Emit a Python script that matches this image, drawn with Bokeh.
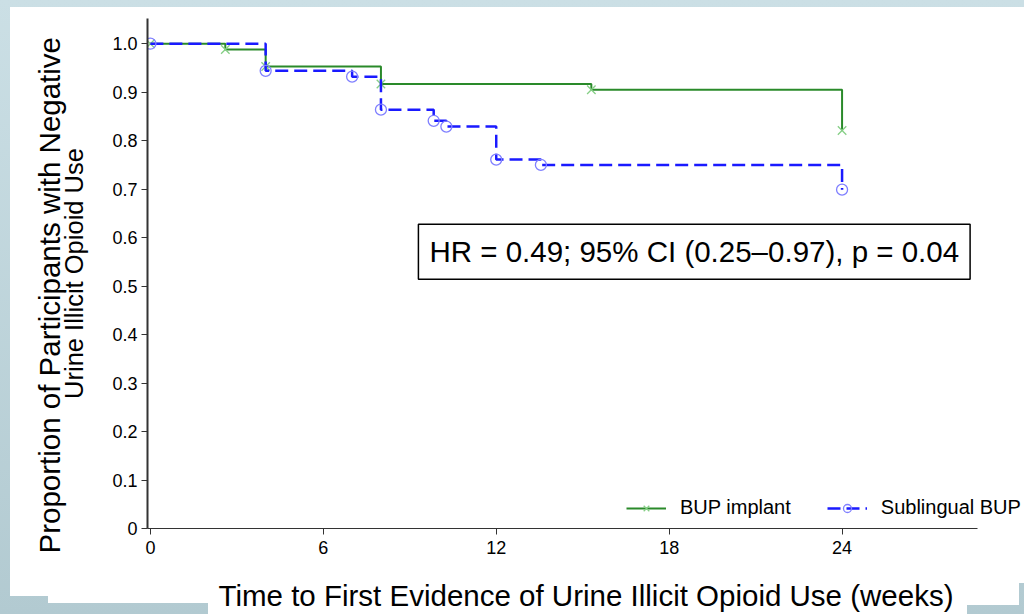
from bokeh.plotting import figure
from bokeh.models import Range1d, FixedTicker, Legend, LegendItem, Label, Title
from bokeh.embed import file_html
from bokeh.resources import INLINE

# ---- data ----
implant_weeks = [0, 2.6, 4.0, 8.0, 15.3, 24.0]
implant_surv = [1.0, 0.988, 0.953, 0.917, 0.905, 0.821]
sublingual_weeks = [0, 4.0, 7.0, 8.0, 9.83, 10.27, 12.0, 13.55, 24.0]
sublingual_surv = [1.0, 0.944, 0.932, 0.864, 0.841, 0.829, 0.761, 0.750, 0.699]
x_ticks = [0, 6, 12, 18, 24]
y_ticks = [0, 0.1, 0.2, 0.3, 0.4, 0.5, 0.6, 0.7, 0.8, 0.9, 1.0]
y_tick_labels = ["0", "0.1", "0.2", "0.3", "0.4", "0.5", "0.6", "0.7", "0.8", "0.9", "1.0"]
series_names = ["BUP implant", "Sublingual BUP"]
hr_text = "HR = 0.49; 95% CI (0.25\u20130.97), p = 0.04"
x_title = "Time to First Evidence of Urine Illicit Opioid Use (weeks)"
y_title_1 = "Proportion of Participants with Negative"
y_title_2 = "Urine Illicit Opioid Use"

FONT = "Liberation Sans"

p = figure(width=1024, height=614, output_backend="svg", toolbar_location=None,
           x_range=Range1d(-0.1, 30.33), y_range=Range1d(0, 1.052),
           min_border_left=147, min_border_right=0, min_border_top=18, min_border_bottom=86)
p.background_fill_color = "white"
p.border_fill_color = None
p.outline_line_color = None
p.xgrid.visible = False
p.ygrid.visible = False

# slide backdrop via CSS: white panels over a pale blue-grey base
white_rects = [(10, 7, 1014, 576), (10, 583, 1009, 13), (48, 596, 971, 7),
               (208, 603, 811, 2), (208, 605, 759, 9)]
layers = [f"linear-gradient(#ffffff,#ffffff) {x}px {y}px / {w}px {h}px no-repeat"
          for (x, y, w, h) in white_rects]
layers.append("linear-gradient(#cbdfe5, #b2cad1)")
p.styles = {"background": ", ".join(layers)}

# axes
for ax in (p.xaxis[0], p.yaxis[0]):
    ax.major_tick_out = 6
    ax.major_tick_in = 0
    ax.minor_tick_line_color = None
    ax.major_label_text_font = FONT
    ax.major_label_text_font_size = "18px"
    ax.major_label_text_color = "black"
    ax.axis_line_color = "#333333"
    ax.major_tick_line_color = "#333333"
    ax.axis_label_text_font = FONT
    ax.axis_label_text_font_style = "normal"
    ax.axis_label_text_color = "black"
p.yaxis[0].axis_line_width = 2
p.xaxis[0].bounds = (-0.1, 28.7)
p.xaxis[0].ticker = FixedTicker(ticks=x_ticks)
p.yaxis[0].ticker = FixedTicker(ticks=y_ticks)
p.yaxis[0].major_label_overrides = {t: s for t, s in zip(y_ticks, y_tick_labels)}
p.xaxis[0].major_label_standoff = 6
p.yaxis[0].major_label_standoff = 4

p.xaxis[0].axis_label = x_title
p.xaxis[0].axis_label_text_font_size = "29.5px"
p.xaxis[0].axis_label_standoff = 22

p.yaxis[0].axis_label = y_title_2
p.yaxis[0].axis_label_text_font_size = "25.5px"
p.yaxis[0].axis_label_standoff = 21

# curves
g_line = p.step(implant_weeks, implant_surv, mode="after", line_color="#2a8a2a", line_width=2)
g_pts = p.scatter(implant_weeks, implant_surv, marker="x", size=12, line_color="#86cf86", line_width=1.3)
b_line = p.step(sublingual_weeks, sublingual_surv, mode="after", line_color="#1a1aff",
                line_width=2.5, line_dash="13 6")
b_pts = p.scatter(sublingual_weeks, sublingual_surv, marker="circle", size=11, fill_color=None,
                  line_color="#8080ff", line_width=1.3)

legend = Legend(items=[LegendItem(label=series_names[0], renderers=[g_line, g_pts]),
                       LegendItem(label=series_names[1], renderers=[b_line, b_pts])],
                orientation="horizontal", location=(479, 9), border_line_color=None,
                background_fill_alpha=0, glyph_width=40, label_standoff=14, spacing=36,
                padding=0, margin=0, label_text_font=FONT, label_text_font_size="20px",
                label_text_color="black")
p.add_layout(legend)

# HR annotation
p.add_layout(Label(x=9.3, y=0.571, text=hr_text, text_baseline="middle", text_align="left",
                   text_font=FONT, text_font_size="29.5px", text_color="black",
                   border_line_color="black", border_line_width=1.5,
                   background_fill_color="white", padding=11))

# first line of the y title, as a side-panel title
p.add_layout(Title(text=y_title_1, align="left", offset=-25, vertical_align="bottom",
                   text_font=FONT, text_font_size="29.5px", text_font_style="normal",
                   text_color="black", standoff=-17), "left")

open("out.html", "w").write(file_html(p, INLINE))
